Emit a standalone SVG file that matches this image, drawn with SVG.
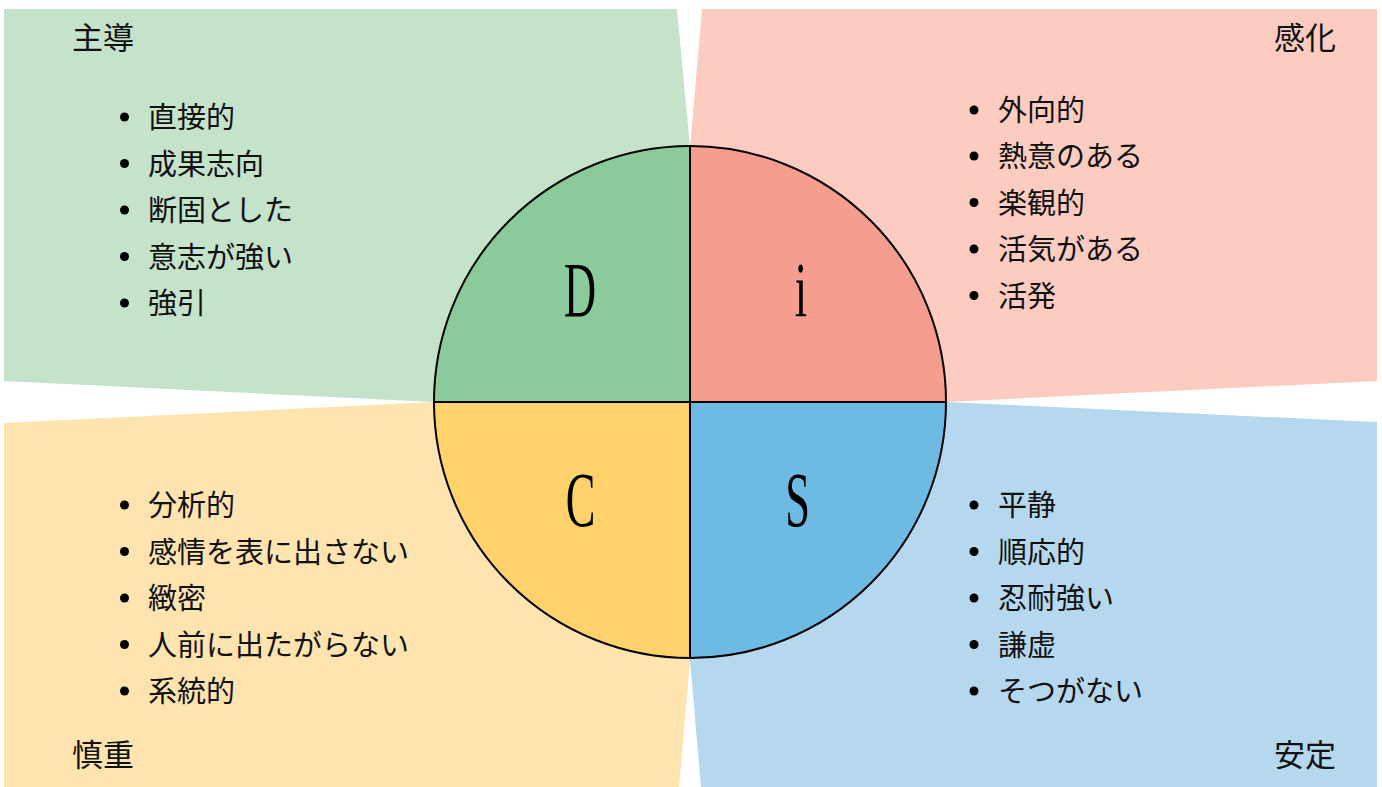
<svg xmlns="http://www.w3.org/2000/svg" width="1382" height="787" viewBox="0 0 1382 787">
<style>
.jp{font-family:"Noto Sans CJK JP","Noto Sans CJK SC",sans-serif;fill:#111;}
.item{font-size:29px;}
.head{font-size:31px;}
.letter{font-family:"Liberation Serif","DejaVu Serif",serif;font-size:78px;fill:#000;text-anchor:middle;}
.dot{fill:#000;}
.edge{fill:none;stroke:#000;stroke-width:2;}
</style>
<rect width="1382" height="787" fill="#ffffff"/>
<g id="bg-D"><polygon points="4,9 677,9 690,148 690,402 434,402 4,381" fill="#C5E2CB"/></g>
<g id="bg-i"><polygon points="702,9 1377,9 1377,381 946,402 690,402 690,148" fill="#FDCCC1"/></g>
<g id="bg-S"><polygon points="946,402 1377,422 1377,787 701,787 690,660 690,402" fill="#B6D8EE"/></g>
<g id="bg-C"><polygon points="4,423 434,402 690,402 690,660 679,787 4,787" fill="#FFE4B0"/></g>

<g id="quad-D">
<path d="M690,402 L434,402 A256,256 0 0 1 690,146 Z" fill="#8BCB9B"/>
<text class="letter" transform="translate(580,316) scale(0.57,1)">D</text>
</g>
<g id="quad-i">
<path d="M690,402 L690,146 A256,256 0 0 1 946,402 Z" fill="#F59E8F"/>
<text class="letter" transform="translate(801,316) scale(0.57,1)">i</text>
</g>
<g id="quad-S">
<path d="M690,402 L946,402 A256,256 0 0 1 690,658 Z" fill="#6DBAE2"/>
<text class="letter" transform="translate(797.5,526) scale(0.57,1)">S</text>
</g>
<g id="quad-C">
<path d="M690,402 L690,658 A256,256 0 0 1 434,402 Z" fill="#FFD26B"/>
<text class="letter" transform="translate(580.5,526) scale(0.57,1)">C</text>
</g>

<g id="connectors">
<circle class="edge" cx="690" cy="402" r="256" stroke-width="2.5"/>
<line class="edge" x1="434" y1="402" x2="946" y2="402" stroke-width="2.5"/>
<line class="edge" x1="690" y1="146" x2="690" y2="658"/>
</g>

<g id="list-D">
<text class="jp head" x="72" y="49">主導</text>
<circle class="dot" cx="124.5" cy="117" r="4.5"/><text class="jp item" x="148" y="128">直接的</text>
<circle class="dot" cx="124.5" cy="163.5" r="4.5"/><text class="jp item" x="148" y="174.5">成果志向</text>
<circle class="dot" cx="124.5" cy="210" r="4.5"/><text class="jp item" x="148" y="221">断固とした</text>
<circle class="dot" cx="124.5" cy="256.5" r="4.5"/><text class="jp item" x="148" y="267.5">意志が強い</text>
<circle class="dot" cx="124.5" cy="303" r="4.5"/><text class="jp item" x="148" y="314">強引</text>
</g>

<g id="list-i">
<text class="jp head" x="1274" y="49">感化</text>
<circle class="dot" cx="974" cy="110" r="4.5"/><text class="jp item" x="998" y="121">外向的</text>
<circle class="dot" cx="974" cy="156" r="4.5"/><text class="jp item" x="998" y="167">熱意のある</text>
<circle class="dot" cx="974" cy="202.5" r="4.5"/><text class="jp item" x="998" y="213.5">楽観的</text>
<circle class="dot" cx="974" cy="249" r="4.5"/><text class="jp item" x="998" y="260">活気がある</text>
<circle class="dot" cx="974" cy="295.5" r="4.5"/><text class="jp item" x="998" y="306.5">活発</text>
</g>

<g id="list-C">
<circle class="dot" cx="124.5" cy="505" r="4.5"/><text class="jp item" x="148" y="516">分析的</text>
<circle class="dot" cx="124.5" cy="551.5" r="4.5"/><text class="jp item" x="148" y="562.5">感情を表に出さない</text>
<circle class="dot" cx="124.5" cy="598" r="4.5"/><text class="jp item" x="148" y="609">緻密</text>
<circle class="dot" cx="124.5" cy="644.5" r="4.5"/><text class="jp item" x="148" y="655.5">人前に出たがらない</text>
<circle class="dot" cx="124.5" cy="691" r="4.5"/><text class="jp item" x="148" y="702">系統的</text>
<text class="jp head" x="72" y="766">慎重</text>
</g>

<g id="list-S">
<circle class="dot" cx="974" cy="505" r="4.5"/><text class="jp item" x="998" y="516">平静</text>
<circle class="dot" cx="974" cy="551.5" r="4.5"/><text class="jp item" x="998" y="562.5">順応的</text>
<circle class="dot" cx="974" cy="598" r="4.5"/><text class="jp item" x="998" y="609">忍耐強い</text>
<circle class="dot" cx="974" cy="644.5" r="4.5"/><text class="jp item" x="998" y="655.5">謙虚</text>
<circle class="dot" cx="974" cy="691" r="4.5"/><text class="jp item" x="998" y="702">そつがない</text>
<text class="jp head" x="1274" y="766">安定</text>
</g>
</svg>
